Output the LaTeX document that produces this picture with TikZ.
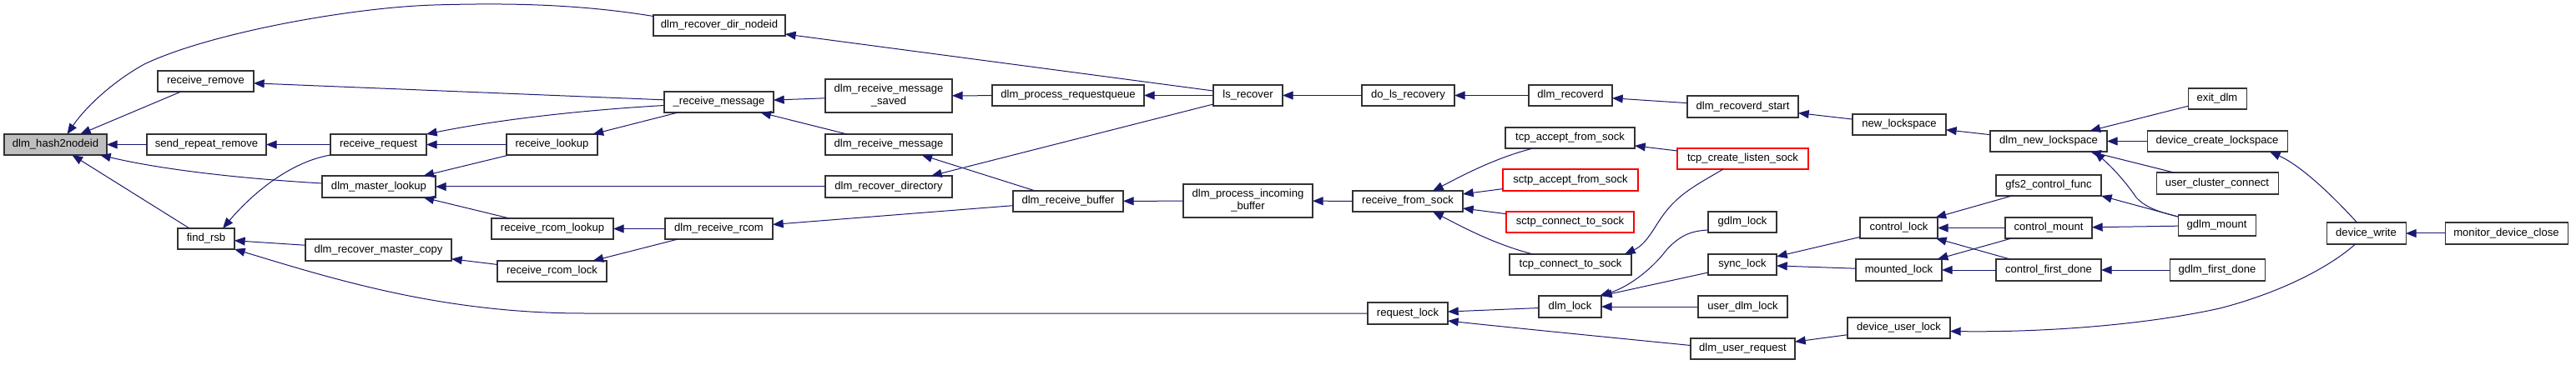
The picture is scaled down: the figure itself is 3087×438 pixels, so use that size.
\documentclass[tikz,border=0pt]{standalone}
\usepackage{fontspec}
\setmainfont{Liberation Sans}
\usetikzlibrary{arrows.meta,calc}
\definecolor{midnight}{HTML}{191970}
\definecolor{hashgray}{HTML}{BFBFBF}
\tikzset{
  fn/.style={draw=black!80, line width=0.8pt, fill=white, inner sep=0pt, outer sep=0pt,
    font=\fontsize{9.8pt}{11.3pt}\selectfont, align=center, anchor=center},
  trunc/.style={draw=red},
  focus/.style={fill=hashgray},
  cedge/.style={draw=midnight, line width=0.75pt, {Triangle[length=9.5pt,width=7.5pt]}-},
}
\newcommand{\fnb}[7][]{\node[fn,#1,minimum width={(#5-#3)*0.75pt},minimum height={(#6-#4)*0.75pt}] (#2) at ({(#3+#5)/2},{(#4+#6)/2}) {#7};}
\begin{document}
\begin{tikzpicture}[x=0.75pt,y=-0.75pt]
\useasboundingbox (0,0) rectangle (3087,438);
% ---------- nodes ----------
\fnb[focus]{hash}{5}{161}{128}{186}{dlm\_hash2nodeid}
\fnb{rr}{189}{85}{304}{110}{receive\_remove}
\fnb{srr}{176}{161}{319}{186}{send\_repeat\_remove}
\fnb{rq}{396}{161}{511}{186}{receive\_request}
\fnb{dml}{386}{211}{522}{237}{dlm\_master\_lookup}
\fnb{fr}{213}{274}{281}{299}{find\_rsb}
\fnb{drmc}{366}{287}{541}{313}{dlm\_recover\_master\_copy}
\fnb{rdn}{783}{18}{941}{43}{dlm\_recover\_dir\_nodeid}
\fnb{rm}{796}{110}{927}{135}{\_receive\_message}
\fnb{rl}{607}{161}{716}{186}{receive\_lookup}
\fnb{rrl}{589}{262}{735}{287}{receive\_rcom\_lookup}
\fnb{rrlk}{596}{313}{727}{338}{receive\_rcom\_lock}
\fnb{drc}{797}{262}{926}{287}{dlm\_receive\_rcom}
\fnb{drms}{989}{95}{1141}{135}{dlm\_receive\_message\\\_saved}
\fnb{drm}{989}{161}{1141}{186}{dlm\_receive\_message}
\fnb{drd}{989}{211}{1141}{237}{dlm\_recover\_directory}
\fnb{dprq}{1189}{102}{1371}{127}{dlm\_process\_requestqueue}
\fnb{lsr}{1454}{102}{1537}{127}{ls\_recover}
\fnb{drb}{1214}{229}{1346}{254}{dlm\_receive\_buffer}
\fnb{dpib}{1418}{221}{1573}{261}{dlm\_process\_incoming\\\_buffer}
\fnb{dlr}{1632}{102}{1743}{127}{do\_ls\_recovery}
\fnb{drcd}{1832}{102}{1932}{127}{dlm\_recoverd}
\fnb{drs}{2022}{115}{2155}{141}{dlm\_recoverd\_start}
\fnb{rfs}{1621}{229}{1753}{254}{receive\_from\_sock}
\fnb{tafs}{1804}{153}{1959}{178}{tcp\_accept\_from\_sock}
\fnb[trunc]{sas}{1801}{203}{1963}{229}{sctp\_accept\_from\_sock}
\fnb[trunc]{scs}{1805}{254}{1958}{279}{sctp\_connect\_to\_sock}
\fnb{tcs}{1809}{305}{1955}{330}{tcp\_connect\_to\_sock}
\fnb[trunc]{tcls}{2010}{178}{2167}{203}{tcp\_create\_listen\_sock}
\fnb{reql}{1639}{363}{1735}{389}{request\_lock}
\fnb{dl}{1844}{355}{1919}{381}{dlm\_lock}
\fnb{udl}{2035}{355}{2142}{381}{user\_dlm\_lock}
\fnb{dur}{2026}{406}{2151}{431}{dlm\_user\_request}
\fnb{gl}{2047}{254}{2129}{279}{gdlm\_lock}
\fnb{sl}{2047}{305}{2129}{330}{sync\_lock}
\fnb{nls}{2220}{137}{2332}{162}{new\_lockspace}
\fnb{dnl}{2385}{157}{2525}{182}{dlm\_new\_lockspace}
\fnb{gcf}{2392}{210}{2518}{235}{gfs2\_control\_func}
\fnb{cl}{2229}{261}{2322}{286}{control\_lock}
\fnb{cm}{2403}{261}{2507}{286}{control\_mount}
\fnb{ml}{2224}{311}{2327}{337}{mounted\_lock}
\fnb{cfd}{2392}{311}{2518}{337}{control\_first\_done}
\fnb{dul}{2214}{381}{2337}{406}{device\_user\_lock}
\fnb{ed}{2622}{106}{2692}{131}{exit\_dlm}
\fnb{dcl}{2573}{157}{2741}{182}{device\_create\_lockspace}
\fnb{ucc}{2584}{207}{2730}{233}{user\_cluster\_connect}
\fnb{gm}{2610}{258}{2703}{283}{gdlm\_mount}
\fnb{gfd}{2600}{311}{2714}{337}{gdlm\_first\_done}
\fnb{dw}{2788}{267}{2883}{293}{device\_write}
\fnb{mdc}{2930}{267}{3077}{293}{monitor\_device\_close}
% ---------- edges (arrow at callee) ----------
\draw[cedge] ($(hash.north)+(14,0)$) .. controls (105,125) and (140,95) .. (173,77)
  .. controls (250,40) and (420,9) .. (520,6) .. controls (620,3) and (700,6) .. ($(rdn.west)+(0,-11)$);
\draw[cedge] (hash) -- (rr);
\draw[cedge] (hash) -- (srr);
\draw[cedge] ($(hash.south east)+(-8,0)$) .. controls (200,205) and (300,215) .. ($(dml.west)+(0,-4)$);
\draw[cedge] (hash) -- (fr);
\draw[cedge] (rr) -- (rm);
\draw[cedge] (srr) -- (rq);
\draw[cedge] (rq.north east) .. controls (600,143) and (700,132) .. ($(rm.west)+(0,4)$);
\draw[cedge] (rq) -- (rl);
\draw[cedge] ($(fr.north)+(20,0)$) .. controls (300,235) and (345,195) .. (rq.south west);
\draw[cedge] (dml) -- (rl);
\draw[cedge] (dml) -- (drd);
\draw[cedge] (dml) -- (rrl);
\draw[cedge] (fr) -- (drmc);
\draw[cedge] (fr.south east) .. controls (400,335) and (530,376) .. (700,376) -- (reql.west);
\draw[cedge] (drmc) -- (rrlk);
\draw[cedge] (rl) -- (rm);
\draw[cedge] (rrl) -- (drc);
\draw[cedge] (rrlk) -- (drc);
\draw[cedge] (rdn) -- (lsr);
\draw[cedge] (rm) -- (drms);
\draw[cedge] (rm) -- (drm);
\draw[cedge] (drms) -- (dprq);
\draw[cedge] (dprq) -- (lsr);
\draw[cedge] (drm) -- (drb);
\draw[cedge] (drd) -- (lsr);
\draw[cedge] (drc) -- (drb);
\draw[cedge] (drb) -- (dpib);
\draw[cedge] (lsr) -- (dlr);
\draw[cedge] (dlr) -- (drcd);
\draw[cedge] (drcd) -- (drs);
\draw[cedge] (drs) -- (nls);
\draw[cedge] (nls) -- (dnl);
\draw[cedge] (dpib) -- (rfs);
\draw[cedge] ($(rfs.north)+(30,0)$) .. controls (1750,212) and (1790,190) .. ($(tafs.south west)+(33,0)$);
\draw[cedge] (rfs) -- (sas);
\draw[cedge] (rfs) -- (scs);
\draw[cedge] ($(rfs.south)+(30,0)$) .. controls (1750,271) and (1790,293) .. ($(tcs.north west)+(28,0)$);
\draw[cedge] (tafs) -- (tcls);
\draw[cedge] ($(tcs.north east)+(-8,0)$) .. controls (1975,292) and (1983,270) .. (1997,253)
  .. controls (2015,230) and (2040,218) .. ($(tcls.south west)+(55,0)$);
\draw[cedge] (reql) -- (dl);
\draw[cedge] ($(reql.east)+(0,9)$) .. controls (1800,392) and (1900,402) .. ($(dur.west)+(0,-4)$);
\draw[cedge] ($(dl.north east)+(-2,0)$) .. controls (1950,345) and (1978,325) .. (1997,300)
  .. controls (2015,280) and (2030,277) .. ($(gl.south west)+(0,-3)$);
\draw[cedge] (dl.north east) -- ($(sl.south west)+(0,-3)$);
\draw[cedge] (dl) -- (udl);
\draw[cedge] (sl) -- (cl);
\draw[cedge] (sl) -- (ml);
\draw[cedge] (cl) -- (gcf);
\draw[cedge] (cl) -- (cm);
\draw[cedge] (cl) -- (cfd);
\draw[cedge] (ml) -- (cm);
\draw[cedge] (ml) -- (cfd);
\draw[cedge] (dur) -- (dul);
\draw[cedge] ($(dul.east)+(0,4)$) .. controls (2450,399) and (2570,390) .. (2660,370)
  .. controls (2730,352) and (2790,322) .. ($(dw.south)+(-13,0)$);
\draw[cedge] (dnl) -- (ed);
\draw[cedge] (dnl) -- (dcl);
\draw[cedge] (dnl) -- (ucc);
\draw[cedge] ($(dnl.south east)+(-15,0)$) .. controls (2530,200) and (2545,215) .. (2560,237)
  .. controls (2572,250) and (2590,255) .. ($(gm.north west)+(0,2)$);
\draw[cedge] (gcf.south east) -- ($(gm.north west)+(0,2)$);
\draw[cedge] (cm) -- (gm);
\draw[cedge] (cfd) -- (gfd);
\draw[cedge] ($(dcl.south)+(63,0)$) .. controls (2760,200) and (2800,240) .. ($(dw.north)+(-11,0)$);
\draw[cedge] (dw) -- (mdc);
\end{tikzpicture}
\end{document}
